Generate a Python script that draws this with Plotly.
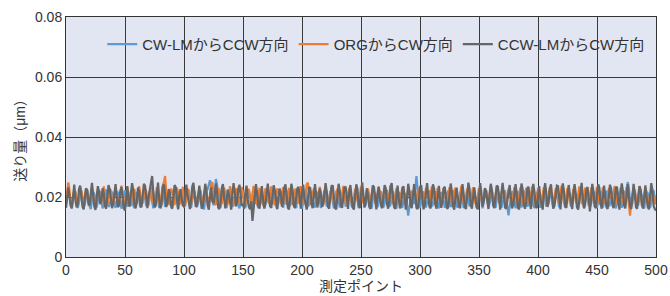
import plotly.graph_objects as go

blue_vals = [
    178,196,221,208,174,168,189,214,219,185,163,182,210,222,191,166,177,205,224,198,169,160,192,217,211,
    180,165,186,212,220,188,162,179,208,225,196,167,173,201,218,206,175,164,190,215,213,182,161,184,211,
    223,193,168,176,204,220,201,171,163,188,213,217,186,165,181,209,222,197,170,174,200,219,207,176,162,
    187,215,214,183,164,183,210,221,194,167,175,203,218,204,173,163,191,216,212,181,161,185,212,224,192,
    168,171,199,220,209,178,164,189,214,218,187,166,180,207,223,198,169,158,195,222,226,239,256,230,196,
    172,181,260,242,205,174,165,190,216,215,184,163,183,211,221,193,167,176,204,219,202,172,162,187,214,
    216,185,165,182,208,222,196,169,173,201,217,205,174,164,192,216,212,180,162,186,213,220,189,167,178,
    206,224,199,170,160,189,215,214,183,164,184,210,221,195,168,175,203,218,203,172,163,190,217,211,181,
    161,185,212,223,192,167,177,204,220,200,171,165,188,214,216,186,163,182,209,222,197,169,174,202,219,
    207,175,162,191,216,213,182,165,184,211,220,194,168,176,205,223,201,171,164,189,215,217,185,163,181,
    208,221,198,170,173,200,218,206,176,161,193,217,210,179,166,186,213,219,188,165,179,207,224,196,168,
    174,202,219,204,173,161,190,216,212,181,163,185,213,205,172,138,168,201,221,208,176,230,270,225,180,
    163,187,214,218,186,165,181,208,222,196,168,177,204,219,203,172,162,191,216,211,180,164,186,212,221,
    193,167,175,203,224,200,170,165,189,214,216,185,163,183,210,220,195,169,174,201,218,206,175,163,192,
    217,212,181,162,185,212,223,191,166,178,206,220,199,171,164,188,215,215,183,164,182,209,222,194,167,
    139,170,203,219,204,174,162,191,216,213,180,165,185,211,221,192,168,176,205,218,202,173,163,189,214,
    217,186,164,181,209,223,197,169,174,202,220,205,175,161,193,216,210,179,166,187,213,219,188,165,180,
    207,224,196,168,173,200,218,207,176,162,190,215,214,182,164,184,211,221,193,167,176,204,219,201,171,
    163,188,213,216,185,165,182,209,222,195,169,175,203,218,204,172,162,192,217,211,180,164,186,212,220,
    200,250,230,186,166,179,206,223,197,170,174,201,219,206,175,161,191,216,213,181,163,185,212,222,194,
    175,
]

orange_vals = [
    190,214,249,221,178,176,205,226,212,183,172,199,231,218,186,174,208,229,204,177,180,213,233,209,181,
    175,202,228,219,184,178,210,235,206,179,173,198,227,222,188,176,207,231,211,182,174,203,238,215,180,
    177,209,230,207,183,171,200,226,224,189,175,212,236,210,178,180,205,229,218,185,172,201,232,221,183,
    176,210,233,206,180,181,214,238,250,270,212,178,174,203,228,219,186,173,207,231,214,181,176,209,234,
    179,174,201,227,223,187,175,211,235,209,180,178,204,230,216,184,172,206,233,219,182,177,212,240,250,
    214,181,173,202,229,220,185,176,208,232,213,179,175,205,236,217,183,171,203,228,222,188,178,210,234,
    207,182,174,200,226,224,190,177,211,237,211,180,176,206,231,215,184,173,204,229,221,186,179,213,235,
    208,181,172,201,228,223,189,176,209,233,214,182,175,207,230,218,185,174,203,227,220,187,178,211,236,
    210,180,176,205,242,248,208,178,174,202,229,221,186,177,210,234,212,181,173,206,231,216,183,175,208,
    232,215,182,172,204,228,222,188,178,212,237,209,179,176,207,230,217,184,174,203,227,223,189,177,211,
    235,208,181,173,200,226,225,190,176,209,233,213,180,175,205,231,218,185,172,202,228,221,187,179,214,
    238,210,180,174,206,229,219,186,177,211,234,212,181,173,204,232,216,183,175,208,230,220,188,176,210,
    236,209,179,172,201,227,224,189,178,213,235,207,182,175,206,230,217,184,173,203,229,222,186,177,212,
    233,211,180,174,207,231,215,183,176,209,237,214,181,172,200,228,223,190,178,210,232,208,179,175,204,
    230,218,185,173,202,227,221,187,177,212,236,210,180,174,207,233,213,182,176,205,229,219,184,172,203,
    228,224,189,178,211,234,209,181,175,206,231,216,183,173,204,230,220,186,177,213,235,208,180,176,202,
    227,225,190,174,209,233,212,182,176,205,232,217,185,172,201,229,222,188,178,211,238,210,179,175,207,
    230,214,181,173,204,228,221,186,177,212,235,208,180,176,206,231,218,184,171,203,227,224,189,178,210,
    234,211,182,175,207,232,215,183,174,201,226,223,190,177,213,237,209,181,173,205,230,219,185,176,208,
    233,213,180,138,182,206,229,222,187,178,211,236,210,179,175,204,231,217,184,172,202,228,224,188,177,
    205,
]

gray_vals = [
    164,205,232,201,170,162,214,241,190,166,175,226,238,204,168,159,197,229,222,181,171,218,247,206,168,
    157,192,236,215,176,188,229,212,170,161,207,240,227,183,163,178,224,243,199,166,172,219,233,194,163,
    155,201,236,180,168,213,246,222,176,162,184,231,219,171,166,206,244,237,188,163,200,229,251,270,214,
    166,171,222,248,195,162,175,233,242,210,167,181,226,214,170,161,198,240,233,181,159,205,226,194,172,
    170,213,241,207,176,160,189,234,247,202,167,174,216,238,196,161,169,209,244,220,172,158,205,232,186,
    179,204,245,217,165,160,183,229,243,196,162,181,225,210,173,158,212,246,216,169,183,228,241,199,170,
    177,160,215,238,192,166,159,186,120,168,217,243,211,173,161,206,236,190,162,175,223,245,209,170,164,
    203,239,222,180,160,197,228,214,168,182,231,242,197,165,159,210,244,222,171,163,205,228,234,184,161,
    212,241,197,169,158,194,233,230,178,163,216,243,209,165,186,228,211,167,176,222,246,215,168,161,190,
    236,239,196,164,159,211,244,221,172,164,202,231,235,186,160,214,240,202,166,158,207,242,227,174,163,
    216,249,208,165,187,229,203,168,160,204,239,233,182,159,212,235,196,170,163,206,240,229,177,161,186,
    234,246,203,167,160,208,238,194,162,175,225,236,185,158,191,244,220,171,163,217,243,209,164,160,182,
    231,240,196,159,173,222,246,205,168,162,207,242,228,175,161,210,237,193,164,184,229,234,184,160,166,
    212,245,219,170,158,196,231,201,170,163,215,243,210,166,160,209,248,226,174,161,204,232,197,168,159,
    213,246,214,168,186,230,219,176,160,211,244,221,171,163,205,238,235,186,158,214,247,212,165,161,189,
    227,240,199,162,173,216,243,208,164,159,210,245,225,173,161,183,229,234,183,160,212,244,217,169,163,
    206,236,194,168,158,213,246,215,167,181,228,242,196,162,171,219,238,236,185,159,211,245,220,170,164,
    208,240,209,177,160,214,243,211,166,158,189,234,247,197,162,177,225,233,182,152,194,244,218,169,163,
    206,242,231,178,161,215,238,198,167,160,209,241,228,175,163,188,231,234,184,158,212,245,219,171,162,
    207,243,203,170,160,214,244,212,166,161,198,236,225,173,162,205,239,200,167,159,211,246,221,170,160,
    155,
]

series_names = ["CW-LMからCCW方向", "ORGからCW方向", "CCW-LMからCW方向"]
series_colors = ["#5b9bd5", "#ed7d31", "#666666"]
x_ticks = [0, 50, 100, 150, 200, 250, 300, 350, 400, 450, 500]
y_ticks = [0, 0.02, 0.04, 0.06, 0.08]
y_tick_labels = ["0", "0.02", "0.04", "0.06", "0.08"]
UNIT = 10000.0  # stored values are in 0.0001 µm

FONT = "Liberation Sans, Arial, Noto Sans CJK JP, sans-serif"

fig = go.Figure()
for vals, name, color in zip([blue_vals, orange_vals, gray_vals], series_names, series_colors):
    fig.add_trace(go.Scatter(
        x=list(range(len(vals))),
        y=[v / UNIT for v in vals],
        mode="lines",
        name=name,
        line=dict(color=color, width=2.2),
    ))

fig.update_layout(
    width=670, height=296,
    margin=dict(l=66, r=14, t=17, b=39),
    paper_bgcolor="white",
    plot_bgcolor="#e2e6f2",
    font=dict(family=FONT, size=14, color="#333333"),
    showlegend=True,
    legend=dict(
        orientation="h",
        x=0.525, xanchor="center",
        y=0.955, yanchor="top",
        bgcolor="rgba(0,0,0,0)",
        font=dict(size=15, color="#333333"),
        itemwidth=30,
        tracegroupgap=0,
    ),
)
fig.update_xaxes(
    range=[0, 500],
    tickvals=x_ticks,
    automargin=False,
    showgrid=True, gridcolor="#3a3a3a", gridwidth=1,
    showline=True, linecolor="#333333", linewidth=1, mirror=True,
    zeroline=False,
    ticks="", ticklen=0,
    tickfont=dict(size=14, color="#333333"),
    title=dict(text="測定ポイント", font=dict(size=14, color="#333333"), standoff=2),
)
fig.update_yaxes(
    range=[0, 0.08],
    tickvals=y_ticks,
    ticktext=y_tick_labels,
    automargin=False,
    showgrid=True, gridcolor="#3a3a3a", gridwidth=1,
    showline=True, linecolor="#333333", linewidth=1, mirror=True,
    zeroline=False,
    ticks="", ticklen=0,
    tickfont=dict(size=14, color="#333333"),
    title=dict(text="送り量（μm）", font=dict(size=14, color="#333333"), standoff=6),
)

fig.write_html("out.html", config={"displayModeBar": False},
               post_script="document.body.style.margin='0';")
